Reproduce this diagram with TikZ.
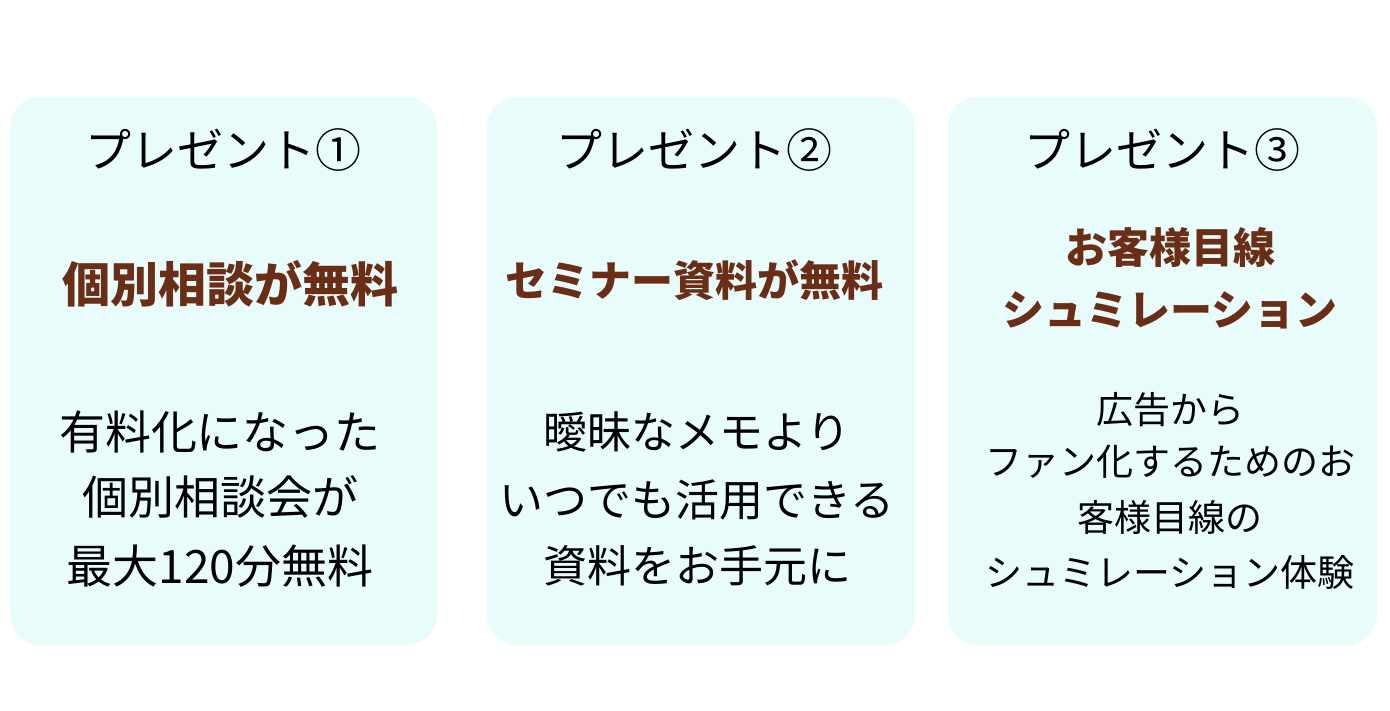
\documentclass[tikz,border=0pt]{standalone}
\usepackage{fontspec}
\setmainfont{Noto Sans CJK JP}
\definecolor{boxbg}{HTML}{E9FCFC}
\definecolor{brown}{HTML}{6A2E17}
\begin{document}
\begin{tikzpicture}[x=1pt,y=-1pt,
  box/.style={fill=boxbg,draw=none,rounded corners=30pt},
  ttl/.style={font=\fontsize{46}{46}\selectfont,text=black,inner sep=0},
  head/.style={font=\fontsize{#1}{#1}\bfseries\selectfont,text=brown,inner sep=0},
  body/.style={font=\fontsize{#1}{#1}\selectfont,text=black,inner sep=0}]
\useasboundingbox (0,0) rectangle (1390,710);
\fill[white] (0,0) rectangle (1390,710);
\path[box] (10,97) rectangle (437,645);
\path[box] (487,97) rectangle (915,645);
\path[box] (948,97) rectangle (1377,645);
\node[ttl] (t1) at (223,150) {プレゼント①};
\node[ttl] (t2) at (694,150) {プレゼント②};
\node[ttl] (t3) at (1162,150) {プレゼント③};
\node[head=48] (h1) at (230,284) {個別相談が無料};
\node[head=42] (h2) at (694,280) {セミナー資料が無料};
\node[head=42] (h3a) at (1170,248) {お客様目線};
\node[head=42] (h3b) at (1170,310) {シュミレーション};
\node[body=46] (b1a) at (220,432) {有料化になった};
\node[body=46] (b1b) at (220,497) {個別相談会が};
\node[body=46] (b1c) at (220,566) {最大120分無料};
\node[body=44] (b2a) at (697,432) {曖昧なメモより};
\node[body=44] (b2b) at (697,500) {いつでも活用できる};
\node[body=44] (b2c) at (697,566) {資料をお手元に};
\node[body=37] (b3a) at (1170,410) {広告から};
\node[body=37] (b3b) at (1170,462) {ファン化するためのお};
\node[body=37] (b3c) at (1170,517) {客様目線の};
\node[body=37] (b3d) at (1170,572) {シュミレーション体験};
\end{tikzpicture}
\end{document}
